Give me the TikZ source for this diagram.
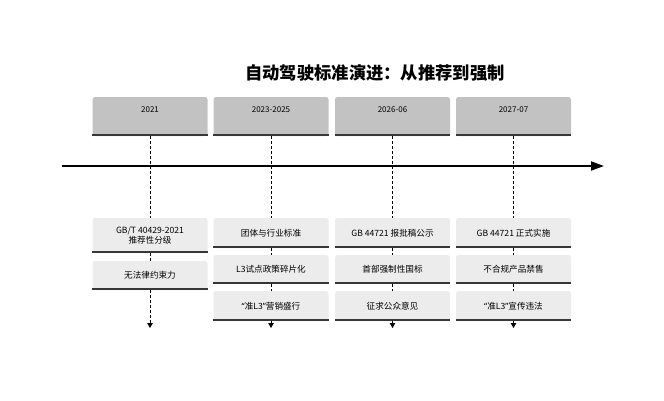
\documentclass[tikz,border=0pt]{standalone}
\usepackage{fontspec}
\setmainfont{Noto Sans CJK SC}
\newfontfamily\latinq{Noto Sans}
\newcommand{\myoq}{{\latinq “}}
\newcommand{\mycq}{{\latinq ”}}
\usetikzlibrary{arrows.meta}
\definecolor{hdrfill}{RGB}{194,194,194}
\definecolor{boxfill}{RGB}{236,236,236}
\definecolor{edgecol}{RGB}{55,55,55}
\tikzset{
  hdr/.style={fill=hdrfill, rounded corners=2.5pt, minimum width=115pt, inner xsep=0pt, inner ysep=0pt,
    text height=15.5pt, text depth=23.5pt, font=\fontsize{8}{9}\selectfont},
  lbox/.style={fill=boxfill, rounded corners=2.5pt, minimum width=115pt, inner sep=0pt, align=center,
    font=\fontsize{8.6}{10}\selectfont},
  baseedge/.style={draw=edgecol, line width=2pt},
  dashline/.style={draw=black, line width=1pt, dash pattern=on 3pt off 2pt},
  endarrow/.style={-{Triangle[length=5pt,width=5.5pt]}},
}
\begin{document}
\begin{tikzpicture}[x=1pt,y=-1pt]
\useasboundingbox (0,0) rectangle (664,400);
\node[font=\fontsize{17.3}{20}\selectfont\bfseries] (title) at (375,73) {自动驾驶标准演进：从推荐到强制};

% timeline
\coordinate (tls) at (62,166);
\coordinate (tle) at (604,166);
\draw[line width=2pt, -{Triangle[length=13pt,width=9pt]}] (tls) -- (tle);

% headers
\node[hdr] (h1) at (150,116.5) {2021};
\node[hdr] (h2) at (271,116.5) {2023-2025};
\node[hdr] (h3) at (392.5,116.5) {2026-06};
\node[hdr] (h4) at (513.5,116.5) {2027-07};

% lower boxes
\node[lbox, minimum height=35pt] (a1) at (150,235.5) {GB/T 40429-2021\\推荐性分级};
\node[lbox, minimum height=29pt] (a2) at (150,275.5) {无法律约束力};

\node[lbox, minimum height=30pt] (b1) at (271,233) {团体与行业标准};
\node[lbox, minimum height=29pt] (b2) at (271,269.5) {L3试点政策碎片化};
\node[lbox, minimum height=30pt] (b3) at (271,306) {\myoq 准L3\mycq 营销盛行};

\node[lbox, minimum height=30pt] (c1) at (392.5,233) {GB 44721 报批稿公示};
\node[lbox, minimum height=29pt] (c2) at (392.5,269.5) {首部强制性国标};
\node[lbox, minimum height=30pt] (c3) at (392.5,306) {征求公众意见};

\node[lbox, minimum height=30pt] (d1) at (513.5,233) {GB 44721 正式实施};
\node[lbox, minimum height=29pt] (d2) at (513.5,269.5) {不合规产品禁售};
\node[lbox, minimum height=30pt] (d3) at (513.5,306) {\myoq 准L3\mycq 宣传违法};

% bottom edges
\foreach \n in {h1,h2,h3,h4,a1,a2,b1,b2,b3,c1,c2,c3,d1,d2,d3}
  \draw[baseedge] ([yshift=0.8pt]\n.south west) -- ([yshift=0.8pt]\n.south east);

% end coordinates
\coordinate (e1) at (150,328);
\coordinate (e2) at (271,328);
\coordinate (e3) at (392.5,328);
\coordinate (e4) at (513.5,328);

% dashed connectors
\draw[dashline] (h1.south) -- (a1.north);
\draw[dashline] (a1.south) -- (a2.north);
\draw[dashline, endarrow] (a2.south) -- (e1);

\draw[dashline] (h2.south) -- (b1.north);
\draw[dashline] (b1.south) -- (b2.north);
\draw[dashline] (b2.south) -- (b3.north);
\draw[dashline, endarrow] (b3.south) -- (e2);

\draw[dashline] (h3.south) -- (c1.north);
\draw[dashline] (c1.south) -- (c2.north);
\draw[dashline] (c2.south) -- (c3.north);
\draw[dashline, endarrow] (c3.south) -- (e3);

\draw[dashline] (h4.south) -- (d1.north);
\draw[dashline] (d1.south) -- (d2.north);
\draw[dashline] (d2.south) -- (d3.north);
\draw[dashline, endarrow] (d3.south) -- (e4);
\end{tikzpicture}
\end{document}
